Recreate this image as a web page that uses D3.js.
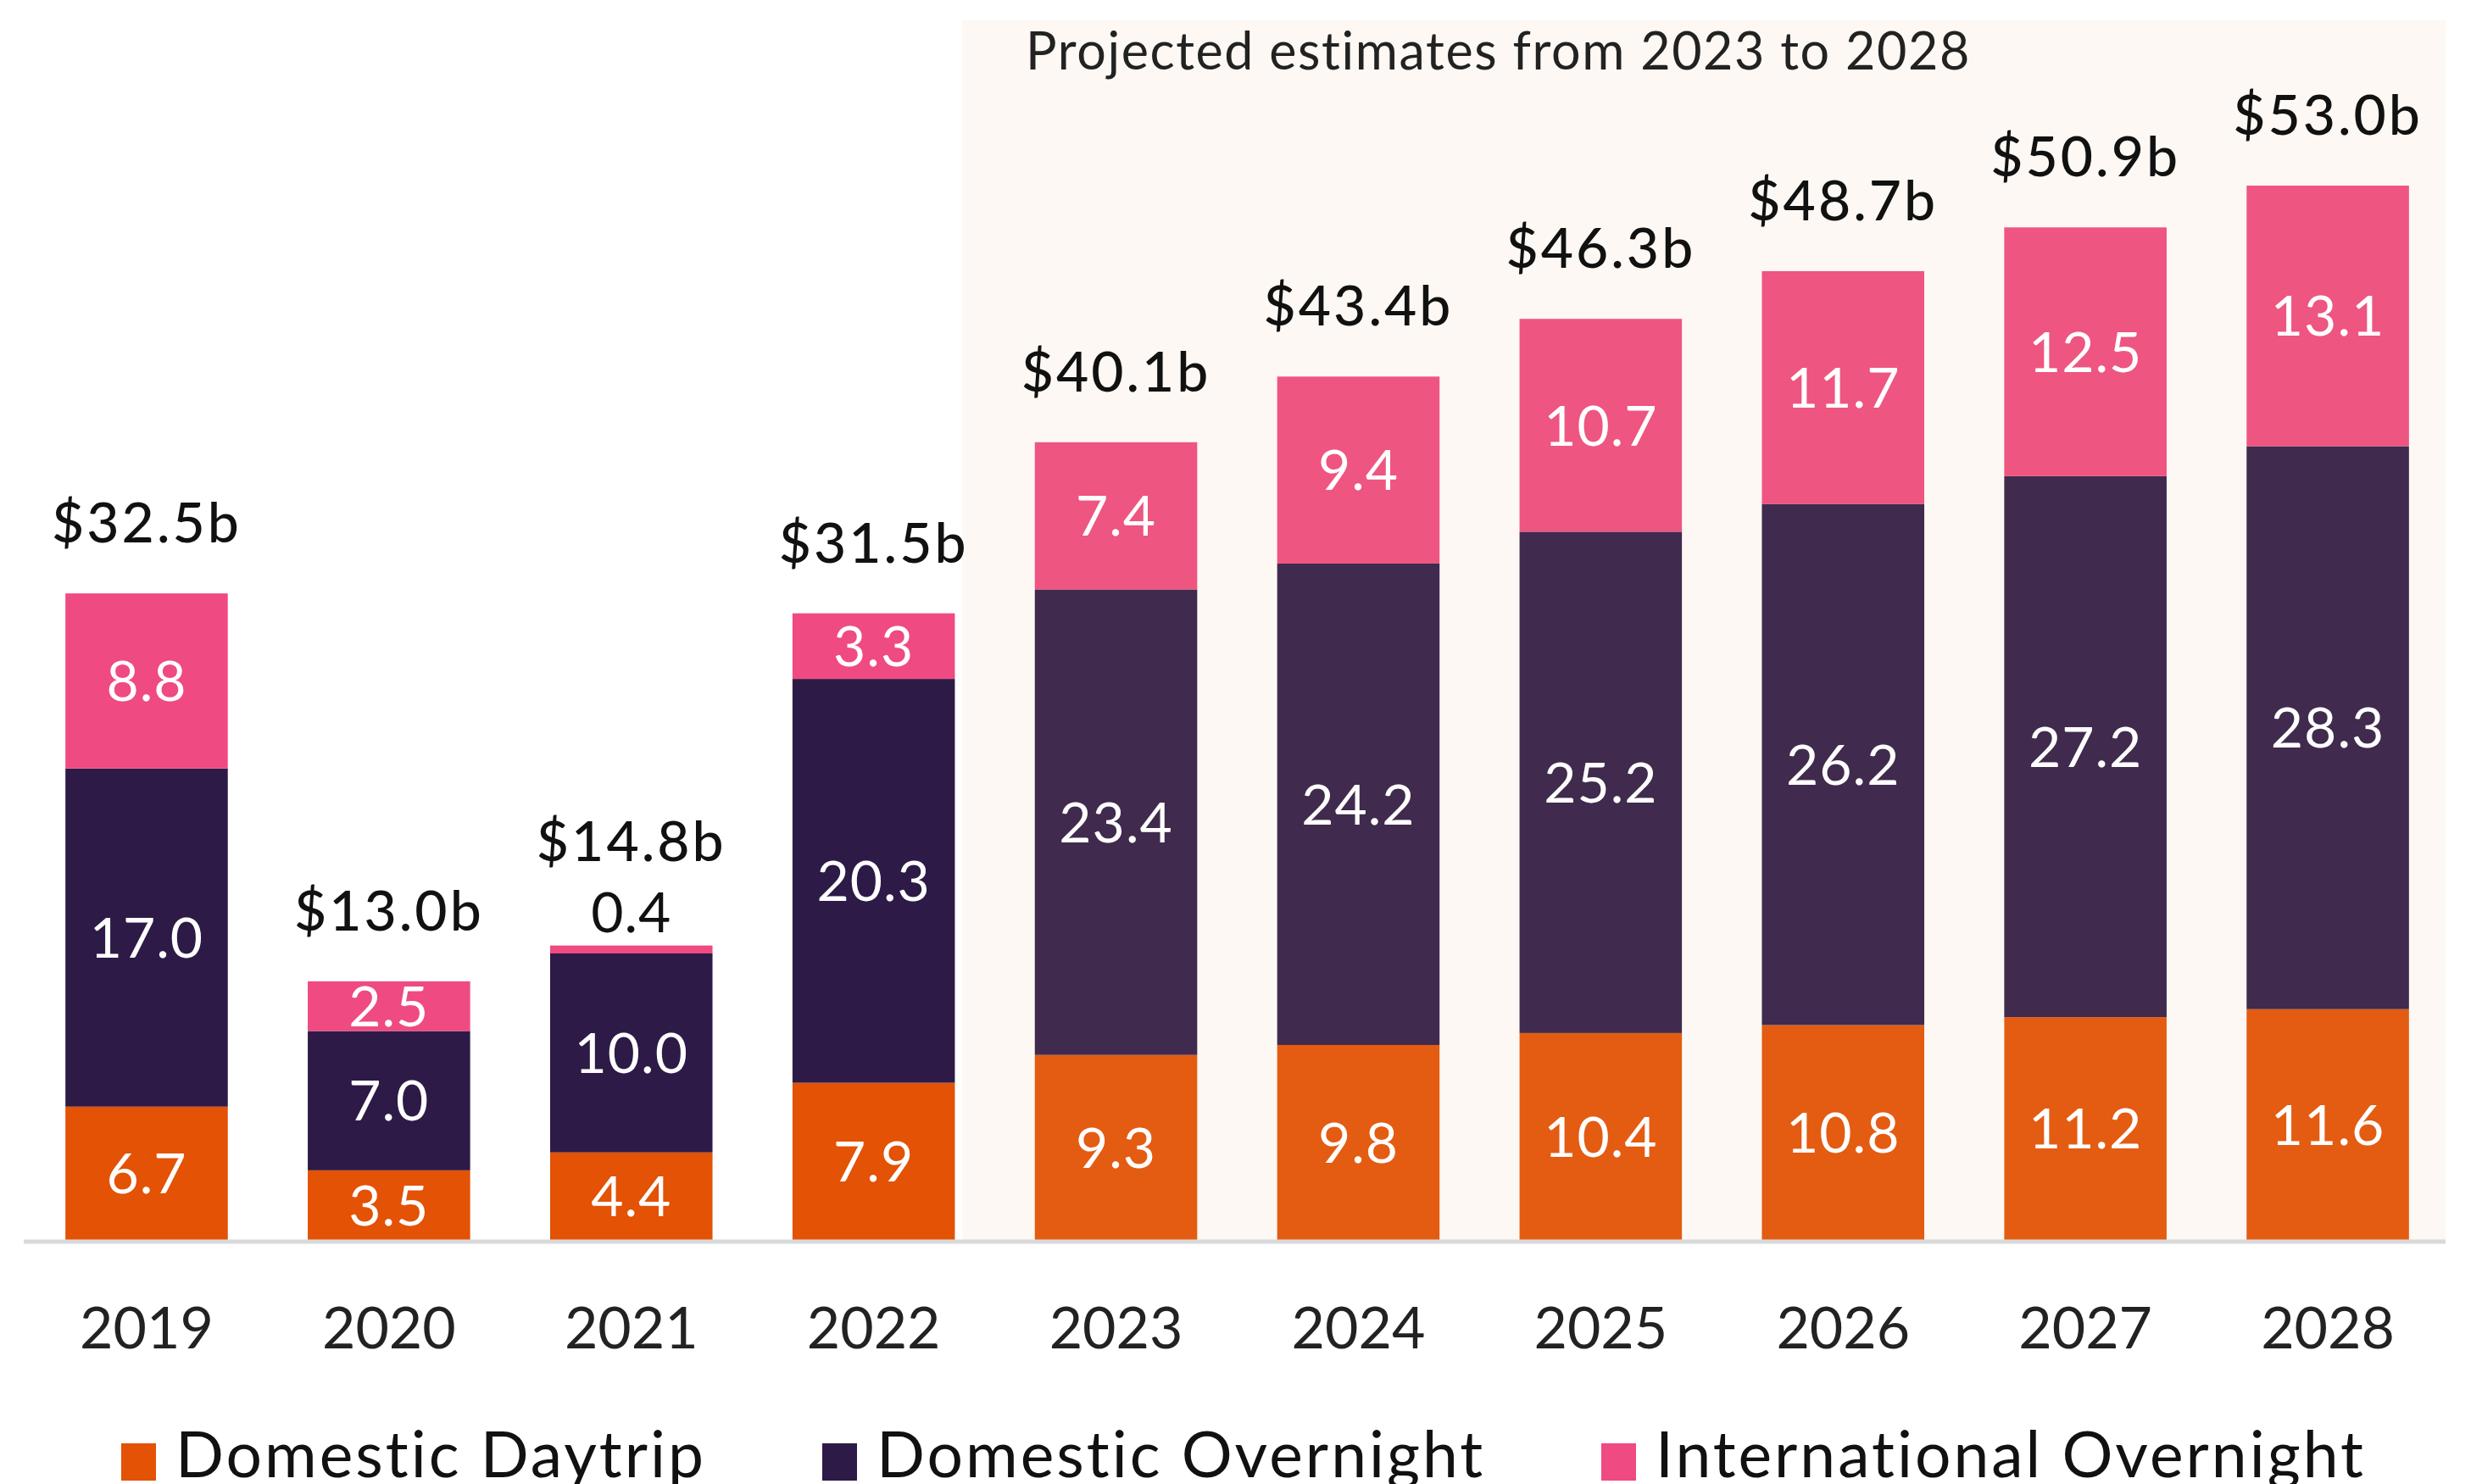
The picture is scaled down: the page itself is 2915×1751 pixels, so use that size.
<!DOCTYPE html>
<html>
<head>
<meta charset="utf-8">
<script src="https://cdn.jsdelivr.net/npm/d3@7"></script>
<style>
  body { margin: 0; background: #fff; }
  svg { display: block; font-family: Lato, "Noto Sans", sans-serif; }
</style>
</head>
<body>
<div id="chart"></div>
<script>
// visitor expenditure by year ($b), stacked by segment
const years = ["2019", "2020", "2021", "2022", "2023", "2024", "2025", "2026", "2027", "2028"];
const domesticDaytrip = [6.7, 3.5, 4.4, 7.9, 9.3, 9.8, 10.4, 10.8, 11.2, 11.6];
const domesticOvernight = [17.0, 7.0, 10.0, 20.3, 23.4, 24.2, 25.2, 26.2, 27.2, 28.3];
const internationalOvernight = [8.8, 2.5, 0.4, 3.3, 7.4, 9.4, 10.7, 11.7, 12.5, 13.1];
const totals = ["$32.5b", "$13.0b", "$14.8b", "$31.5b", "$40.1b", "$43.4b", "$46.3b", "$48.7b", "$50.9b", "$53.0b"];
const seriesNames = ["Domestic Daytrip", "Domestic Overnight", "International Overnight"];
const projectedFrom = "2023";
const projectedLabel = "Projected estimates from 2023 to 2028";

function drawChart(id) {
  const w = 2915;
  const h = 1751;
  const baseline = 1463;

  const keys = ["daytrip", "overnight", "international"];
  const data = years.map((y, i) => ({
    year: y,
    daytrip: domesticDaytrip[i],
    overnight: domesticOvernight[i],
    international: internationalOvernight[i],
    total: totals[i],
  }));
  const stackedData = d3.stack().keys(keys)(data);

  const color = d3.scaleOrdinal().domain(keys).range(["#e35205", "#2d1a47", "#ef4a81"]);

  const svg = d3
    .select(`#${id}`)
    .append("svg")
    .attr("width", w)
    .attr("height", h)
    .attr("viewBox", [0, 0, w, h]);

  const xScale = d3
    .scaleBand()
    .domain(years)
    .range([30, 2889])
    .paddingInner(0.33)
    .paddingOuter(0.165);

  const yScale = d3.scaleLinear().domain([0, 53]).range([baseline, 219]);

  // stacked bars
  svg
    .selectAll(".layer")
    .data(stackedData)
    .enter()
    .append("g")
    .attr("class", "layer")
    .attr("fill", (d) => color(d.key))
    .selectAll("rect")
    .data((d) => d)
    .enter()
    .append("rect")
    .attr("x", (d) => xScale(d.data.year))
    .attr("y", (d) => yScale(d[1]))
    .attr("width", xScale.bandwidth())
    .attr("height", (d) => yScale(d[0]) - yScale(d[1]));

  // shaded projection area, drawn over the bars so they look faded
  const shadeX = xScale(projectedFrom) - xScale.step() * 0.3;
  svg
    .append("rect")
    .attr("x", shadeX)
    .attr("y", 24)
    .attr("width", 2885 - shadeX)
    .attr("height", baseline - 24)
    .attr("fill", "#eeb886")
    .attr("fill-opacity", 0.1);

  svg
    .append("text")
    .attr("x", 1210)
    .attr("y", 82)
    .attr("font-size", 61)
    .attr("letter-spacing", 1.6)
    .attr("fill", "#222")
    .text(projectedLabel);

  // segment value labels (small ones go above the bar in black)
  const small = {};
  stackedData.forEach((layer) => {
    layer.forEach((d) => {
      const v = d[1] - d[0];
      const tooSmall = yScale(d[0]) - yScale(d[1]) < 40;
      if (tooSmall) small[d.data.year] = true;
      svg
        .append("text")
        .attr("x", xScale(d.data.year) + xScale.bandwidth() / 2)
        .attr("y", tooSmall ? yScale(d[1]) - 16 : (yScale(d[0]) + yScale(d[1])) / 2)
        .attr("dy", tooSmall ? 0 : "0.36em")
        .attr("text-anchor", "middle")
        .attr("font-size", 66)
        .attr("letter-spacing", 1)
        .attr("fill", tooSmall ? "#111" : "#fff")
        .text(v.toFixed(1));
    });
  });

  // totals above each bar
  const top = stackedData[stackedData.length - 1];
  svg
    .selectAll(".total")
    .data(top)
    .enter()
    .append("text")
    .attr("class", "total")
    .attr("x", (d) => xScale(d.data.year) + xScale.bandwidth() / 2)
    .attr("y", (d) => yScale(d[1]) - (small[d.data.year] ? 100 : 60))
    .attr("text-anchor", "middle")
    .attr("font-size", 66)
    .attr("letter-spacing", 3)
    .attr("font-weight", 500)
    .attr("fill", "#111")
    .text((d) => d.data.total);

  // x axis
  const xAxis = svg
    .append("g")
    .attr("transform", `translate(0, ${baseline + 2})`)
    .call(d3.axisBottom(xScale).tickSize(0).tickPadding(78));
  xAxis.select(".domain").remove();
  xAxis.selectAll("text").attr("font-size", 68).attr("fill", "#222").attr("font-family", "Lato");
  svg
    .append("line")
    .attr("x1", 28)
    .attr("x2", 2885)
    .attr("y1", baseline + 2)
    .attr("y2", baseline + 2)
    .attr("stroke", "#d9d9d9")
    .attr("stroke-width", 5);

  // legend
  const legendX = [143, 970, 1889];
  const legend = svg
    .selectAll(".legendItem")
    .data(seriesNames)
    .enter()
    .append("g")
    .attr("class", "legendItem")
    .attr("transform", (d, i) => `translate(${legendX[i]}, 1703)`);
  legend
    .append("rect")
    .attr("width", 41)
    .attr("height", 44)
    .attr("fill", (d, i) => color(keys[i]));
  legend
    .append("text")
    .attr("x", 64)
    .attr("y", 40)
    .attr("font-size", 75)
    .attr("letter-spacing", 3)
    .attr("fill", "#111")
    .text((d) => d);
}

document.addEventListener("DOMContentLoaded", function () {
  drawChart("chart");
});
</script>
</body>
</html>
